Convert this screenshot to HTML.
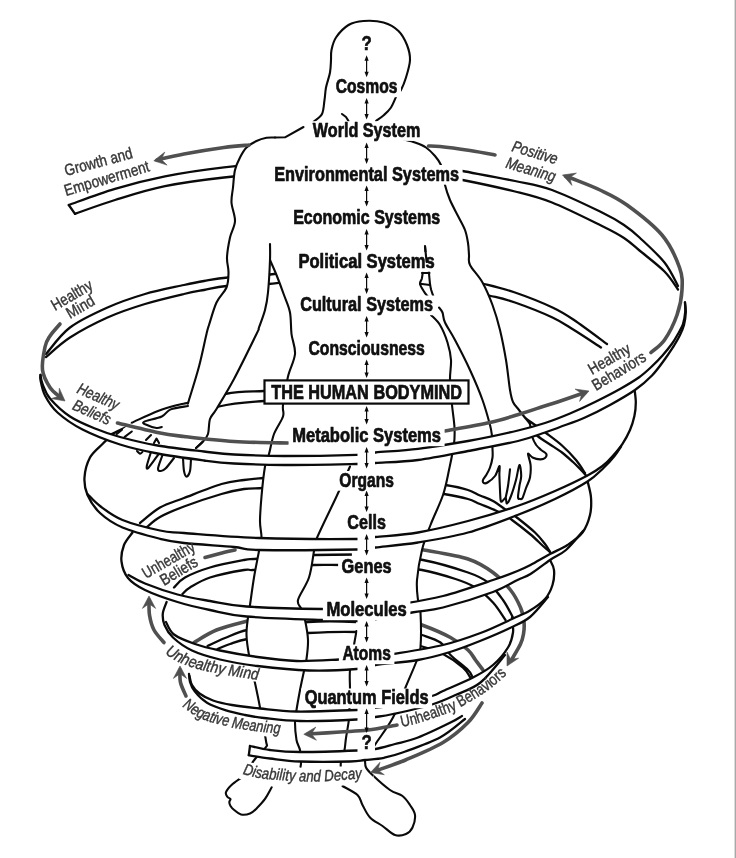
<!DOCTYPE html>
<html lang="en"><head><meta charset="utf-8"><title>The Human Bodymind</title>
<style>
html,body{margin:0;padding:0;background:#fff;}
body{width:736px;height:858px;overflow:hidden;}
svg{display:block;filter:grayscale(1);}
text{font-family:"Liberation Sans",Arial,Helvetica,sans-serif;}
.b{font-weight:bold;fill:#111;}
.g{fill:#383838;}
</style></head><body>
<svg width="736" height="858" viewBox="0 0 736 858">
<rect x="0" y="0" width="736" height="858" fill="#fff"/>
<rect x="734.6" y="0" width="1.4" height="858" fill="#a8a8a8"/>
<path d="M68.8 205.0C76.5 202.3 99.0 193.5 115.0 188.8C131.0 184.0 146.8 179.9 165.0 176.3C183.2 172.7 201.5 169.9 224.0 167.3C246.5 164.8 276.3 162.2 300.0 161.0C323.7 159.8 344.3 159.3 366.0 160.0C387.7 160.7 413.9 163.2 430.0 165.0C446.1 166.8 448.3 168.3 462.5 171.0C476.7 173.7 500.1 177.8 515.0 181.0C529.9 184.2 537.5 184.8 552.0 190.0C566.5 195.2 590.0 206.7 602.0 212.5C614.0 218.3 617.8 220.8 624.0 225.0C630.2 229.2 632.8 231.2 639.5 237.5C646.2 243.8 658.1 254.4 664.5 262.5C670.9 270.6 675.8 282.1 678.0 286.0L678.0 289.5C675.8 286.5 670.9 278.0 664.5 271.5C658.1 265.0 646.2 256.1 639.5 250.5C632.8 244.9 630.2 242.1 624.0 238.0C617.8 233.9 614.0 231.9 602.0 226.0C590.0 220.1 566.5 208.2 552.0 202.5C537.5 196.8 529.9 195.2 515.0 191.5C500.1 187.8 476.7 182.8 462.5 180.0C448.3 177.2 446.1 176.7 430.0 175.0C413.9 173.3 387.7 170.7 366.0 170.0C344.3 169.3 323.7 169.8 300.0 171.0C276.3 172.2 246.5 175.0 224.0 177.5C201.5 180.0 183.2 182.4 165.0 186.2C146.8 189.9 130.0 195.4 115.0 200.0C100.0 204.6 81.7 211.5 75.0 213.8Z" fill="#fff" stroke="none"/>
<path d="M68.8 205.0C76.5 202.3 99.0 193.5 115.0 188.8C131.0 184.0 146.8 179.9 165.0 176.3C183.2 172.7 201.5 169.9 224.0 167.3C246.5 164.8 276.3 162.2 300.0 161.0C323.7 159.8 344.3 159.3 366.0 160.0C387.7 160.7 413.9 163.2 430.0 165.0C446.1 166.8 448.3 168.3 462.5 171.0C476.7 173.7 500.1 177.8 515.0 181.0C529.9 184.2 537.5 184.8 552.0 190.0C566.5 195.2 590.0 206.7 602.0 212.5C614.0 218.3 617.8 220.8 624.0 225.0C630.2 229.2 632.8 231.2 639.5 237.5C646.2 243.8 658.1 254.4 664.5 262.5C670.9 270.6 675.8 282.1 678.0 286.0" fill="none" stroke="#0a0a0a" stroke-width="2.3" stroke-linecap="round" stroke-linejoin="round" />
<path d="M75.0 213.8C81.7 211.5 100.0 204.6 115.0 200.0C130.0 195.4 146.8 189.9 165.0 186.2C183.2 182.4 201.5 180.0 224.0 177.5C246.5 175.0 276.3 172.2 300.0 171.0C323.7 169.8 344.3 169.3 366.0 170.0C387.7 170.7 413.9 173.3 430.0 175.0C446.1 176.7 448.3 177.2 462.5 180.0C476.7 182.8 500.1 187.8 515.0 191.5C529.9 195.2 537.5 196.8 552.0 202.5C566.5 208.2 590.0 220.1 602.0 226.0C614.0 231.9 617.8 233.9 624.0 238.0C630.2 242.1 632.8 244.9 639.5 250.5C646.2 256.1 658.1 265.0 664.5 271.5C670.9 278.0 675.8 286.5 678.0 289.5" fill="none" stroke="#0a0a0a" stroke-width="2.3" stroke-linecap="round" stroke-linejoin="round" />
<path d="M68.8 205.0L75.0 213.8" fill="none" stroke="#0a0a0a" stroke-width="2.3" stroke-linecap="round" stroke-linejoin="round"/>
<path d="M46.0 354.0C50.0 349.6 59.8 335.2 70.0 327.5C80.2 319.8 95.0 313.1 107.5 307.5C120.0 301.9 132.2 297.8 145.0 294.0C157.8 290.2 174.2 287.2 184.0 285.0C193.8 282.8 196.7 282.2 204.0 281.0C211.3 279.8 217.0 278.6 228.0 277.5C239.0 276.4 254.7 276.1 270.0 274.5C285.3 272.9 304.0 269.6 320.0 268.0C336.0 266.4 347.7 264.3 366.0 265.0C384.3 265.7 410.3 268.8 430.0 272.0C449.7 275.2 469.8 280.6 484.0 284.0C498.2 287.4 503.6 288.6 515.0 292.5C526.4 296.4 542.7 302.9 552.5 307.5C562.3 312.1 564.9 313.9 574.0 320.0C583.1 326.1 601.5 340.0 607.0 344.0L601.0 347.5C596.5 344.6 582.1 335.0 574.0 330.0C565.9 325.0 562.3 322.1 552.5 317.5C542.7 312.9 525.6 306.2 515.0 302.5C504.4 298.8 503.2 298.8 489.0 295.5C474.8 292.2 450.5 286.4 430.0 283.0C409.5 279.6 384.3 275.8 366.0 275.0C347.7 274.2 336.3 276.5 320.0 278.0C303.7 279.5 283.6 282.7 268.0 284.0C252.4 285.3 237.2 285.0 226.5 286.0C215.8 287.0 211.1 288.7 204.0 290.0C196.9 291.3 193.8 291.7 184.0 294.0C174.2 296.3 157.8 300.1 145.0 304.0C132.2 307.9 120.0 311.9 107.5 317.5C95.0 323.1 80.2 330.9 70.0 337.5C59.8 344.1 50.0 353.8 46.0 357.0Z" fill="#fff" stroke="none"/>
<path d="M46.0 354.0C50.0 349.6 59.8 335.2 70.0 327.5C80.2 319.8 95.0 313.1 107.5 307.5C120.0 301.9 132.2 297.8 145.0 294.0C157.8 290.2 174.2 287.2 184.0 285.0C193.8 282.8 196.7 282.2 204.0 281.0C211.3 279.8 217.0 278.6 228.0 277.5C239.0 276.4 254.7 276.1 270.0 274.5C285.3 272.9 304.0 269.6 320.0 268.0C336.0 266.4 347.7 264.3 366.0 265.0C384.3 265.7 410.3 268.8 430.0 272.0C449.7 275.2 469.8 280.6 484.0 284.0C498.2 287.4 503.6 288.6 515.0 292.5C526.4 296.4 542.7 302.9 552.5 307.5C562.3 312.1 564.9 313.9 574.0 320.0C583.1 326.1 601.5 340.0 607.0 344.0" fill="none" stroke="#0a0a0a" stroke-width="2.3" stroke-linecap="round" stroke-linejoin="round" />
<path d="M46.0 357.0C50.0 353.8 59.8 344.1 70.0 337.5C80.2 330.9 95.0 323.1 107.5 317.5C120.0 311.9 132.2 307.9 145.0 304.0C157.8 300.1 174.2 296.3 184.0 294.0C193.8 291.7 196.9 291.3 204.0 290.0C211.1 288.7 215.8 287.0 226.5 286.0C237.2 285.0 252.4 285.3 268.0 284.0C283.6 282.7 303.7 279.5 320.0 278.0C336.3 276.5 347.7 274.2 366.0 275.0C384.3 275.8 409.5 279.6 430.0 283.0C450.5 286.4 474.8 292.2 489.0 295.5C503.2 298.8 504.4 298.8 515.0 302.5C525.6 306.2 542.7 312.9 552.5 317.5C562.3 322.1 565.9 325.0 574.0 330.0C582.1 335.0 596.5 344.6 601.0 347.5" fill="none" stroke="#0a0a0a" stroke-width="2.3" stroke-linecap="round" stroke-linejoin="round" />
<path d="M108.0 436.0C116.7 432.0 140.5 419.0 160.0 412.0C179.5 405.0 207.7 397.5 225.0 394.0C242.3 390.5 251.5 391.8 264.0 391.0C276.5 390.2 294.0 389.3 300.0 389.0L300.0 399.0C294.0 399.3 277.5 399.8 264.0 401.0C250.5 402.2 235.5 402.7 219.0 406.5C202.5 410.3 182.8 418.2 165.0 424.0C147.2 429.8 120.8 438.2 112.0 441.0Z" fill="#fff" stroke="none"/>
<path d="M108.0 436.0C116.7 432.0 140.5 419.0 160.0 412.0C179.5 405.0 207.7 397.5 225.0 394.0C242.3 390.5 251.5 391.8 264.0 391.0C276.5 390.2 294.0 389.3 300.0 389.0" fill="none" stroke="#0a0a0a" stroke-width="2.3" stroke-linecap="round" stroke-linejoin="round" />
<path d="M112.0 441.0C120.8 438.2 147.2 429.8 165.0 424.0C182.8 418.2 202.5 410.3 219.0 406.5C235.5 402.7 250.5 402.2 264.0 401.0C277.5 399.8 294.0 399.3 300.0 399.0" fill="none" stroke="#0a0a0a" stroke-width="2.3" stroke-linecap="round" stroke-linejoin="round" />
<path d="M505.0 402.0C507.7 404.2 516.0 411.2 521.0 415.0C526.0 418.8 530.8 422.0 535.0 425.0C539.2 428.0 541.5 429.6 546.0 433.0C550.5 436.4 557.0 441.0 562.0 445.5C567.0 450.0 572.2 455.4 576.0 460.0C579.8 464.6 583.5 470.8 585.0 473.0L586.0 475.5C585.2 474.6 583.2 472.2 581.0 470.0C578.8 467.8 576.2 464.9 573.0 462.0C569.8 459.1 565.8 455.4 562.0 452.5C558.2 449.6 554.1 447.2 550.0 444.5C545.9 441.8 541.7 439.2 537.5 436.0C533.3 432.8 530.4 429.2 525.0 425.0C519.6 420.8 508.3 413.3 505.0 411.0Z" fill="#fff" stroke="none"/>
<path d="M505.0 402.0C507.7 404.2 516.0 411.2 521.0 415.0C526.0 418.8 530.8 422.0 535.0 425.0C539.2 428.0 541.5 429.6 546.0 433.0C550.5 436.4 557.0 441.0 562.0 445.5C567.0 450.0 572.2 455.4 576.0 460.0C579.8 464.6 583.5 470.8 585.0 473.0" fill="none" stroke="#0a0a0a" stroke-width="2.3" stroke-linecap="round" stroke-linejoin="round" />
<path d="M505.0 411.0C508.3 413.3 519.6 420.8 525.0 425.0C530.4 429.2 533.3 432.8 537.5 436.0C541.7 439.2 545.9 441.8 550.0 444.5C554.1 447.2 558.2 449.6 562.0 452.5C565.8 455.4 569.8 459.1 573.0 462.0C576.2 464.9 578.8 467.8 581.0 470.0C583.2 472.2 585.2 474.6 586.0 475.5" fill="none" stroke="#0a0a0a" stroke-width="2.3" stroke-linecap="round" stroke-linejoin="round" />
<path d="M140.0 523.0C143.3 520.4 152.7 511.7 160.0 507.5C167.3 503.3 173.8 501.9 184.0 498.0C194.2 494.1 211.5 487.0 221.5 484.0C231.5 481.0 237.1 481.0 244.0 480.0C250.9 479.0 255.3 478.7 263.0 478.0C270.7 477.3 285.5 476.3 290.0 476.0L290.0 486.0C285.5 486.3 270.7 487.5 263.0 488.0C255.3 488.5 250.9 488.0 244.0 489.0C237.1 490.0 231.5 491.1 221.5 494.0C211.5 496.9 194.2 502.7 184.0 506.5C173.8 510.3 166.2 513.6 160.0 517.0C153.8 520.4 149.2 525.3 147.0 527.0Z" fill="#fff" stroke="none"/>
<path d="M140.0 523.0C143.3 520.4 152.7 511.7 160.0 507.5C167.3 503.3 173.8 501.9 184.0 498.0C194.2 494.1 211.5 487.0 221.5 484.0C231.5 481.0 237.1 481.0 244.0 480.0C250.9 479.0 255.3 478.7 263.0 478.0C270.7 477.3 285.5 476.3 290.0 476.0" fill="none" stroke="#0a0a0a" stroke-width="2.3" stroke-linecap="round" stroke-linejoin="round" />
<path d="M147.0 527.0C149.2 525.3 153.8 520.4 160.0 517.0C166.2 513.6 173.8 510.3 184.0 506.5C194.2 502.7 211.5 496.9 221.5 494.0C231.5 491.1 237.1 490.0 244.0 489.0C250.9 488.0 255.3 488.5 263.0 488.0C270.7 487.5 285.5 486.3 290.0 486.0" fill="none" stroke="#0a0a0a" stroke-width="2.3" stroke-linecap="round" stroke-linejoin="round" />
<path d="M420.0 482.0C424.2 482.5 437.5 483.7 445.5 485.0C453.5 486.3 462.2 488.2 468.0 490.0C473.8 491.8 475.8 493.7 480.0 495.5C484.2 497.3 488.4 498.4 493.0 501.0C497.6 503.6 503.4 508.2 507.5 511.0C511.6 513.8 512.9 514.4 517.5 518.0C522.1 521.6 530.4 528.2 535.0 532.5C539.6 536.8 542.5 540.8 545.0 544.0C547.5 547.2 549.2 550.7 550.0 552.0L550.0 552.0C548.8 551.0 546.3 549.0 543.0 546.0C539.7 543.0 535.2 538.3 530.0 534.0C524.8 529.7 517.0 523.6 512.0 520.0C507.0 516.4 505.3 515.2 500.0 512.5C494.7 509.8 485.3 506.2 480.0 504.0C474.7 501.8 474.0 500.7 468.0 499.0C462.0 497.3 452.0 495.3 444.0 494.0C436.0 492.7 424.0 491.5 420.0 491.0Z" fill="#fff" stroke="none"/>
<path d="M420.0 482.0C424.2 482.5 437.5 483.7 445.5 485.0C453.5 486.3 462.2 488.2 468.0 490.0C473.8 491.8 475.8 493.7 480.0 495.5C484.2 497.3 488.4 498.4 493.0 501.0C497.6 503.6 503.4 508.2 507.5 511.0C511.6 513.8 512.9 514.4 517.5 518.0C522.1 521.6 530.4 528.2 535.0 532.5C539.6 536.8 542.5 540.8 545.0 544.0C547.5 547.2 549.2 550.7 550.0 552.0" fill="none" stroke="#0a0a0a" stroke-width="2.3" stroke-linecap="round" stroke-linejoin="round" />
<path d="M420.0 491.0C424.0 491.5 436.0 492.7 444.0 494.0C452.0 495.3 462.0 497.3 468.0 499.0C474.0 500.7 474.7 501.8 480.0 504.0C485.3 506.2 494.7 509.8 500.0 512.5C505.3 515.2 507.0 516.4 512.0 520.0C517.0 523.6 524.8 529.7 530.0 534.0C535.2 538.3 539.7 543.0 543.0 546.0C546.3 549.0 548.8 551.0 550.0 552.0" fill="none" stroke="#0a0a0a" stroke-width="2.3" stroke-linecap="round" stroke-linejoin="round" />
<path d="M174.0 587.5C175.8 585.8 179.0 580.8 185.0 577.5C191.0 574.2 200.2 570.4 210.0 567.5C219.8 564.6 236.7 561.4 244.0 560.0C251.3 558.6 248.0 559.5 254.0 559.0C260.0 558.5 269.8 557.7 280.0 557.0C290.2 556.3 302.2 555.4 315.0 555.0C327.8 554.6 345.7 554.5 356.5 554.5C367.3 554.5 368.9 554.1 380.0 555.0C391.1 555.9 408.3 557.1 423.0 560.0C437.7 562.9 457.2 568.8 468.0 572.5C478.8 576.2 482.2 577.9 488.0 582.5C493.8 587.1 498.8 594.2 503.0 600.0C507.2 605.8 511.3 614.6 513.0 617.5L505.5 620.0C503.4 617.1 498.0 607.9 493.0 602.5C488.0 597.1 481.8 591.4 475.5 587.5C469.2 583.6 464.4 581.9 455.5 579.0C446.6 576.1 434.6 572.3 422.0 570.0C409.4 567.7 393.4 565.8 380.0 565.0C366.6 564.2 352.5 565.0 341.5 565.0C330.5 565.0 324.2 564.7 314.0 565.0C303.8 565.3 290.2 566.2 280.0 567.0C269.8 567.8 259.0 569.5 253.0 570.0C247.0 570.5 251.2 568.8 244.0 570.0C236.8 571.2 219.0 574.6 210.0 577.5C201.0 580.4 194.6 584.8 190.0 587.5C185.4 590.2 183.8 592.9 182.5 594.0Z" fill="#fff" stroke="none"/>
<path d="M174.0 587.5C175.8 585.8 179.0 580.8 185.0 577.5C191.0 574.2 200.2 570.4 210.0 567.5C219.8 564.6 236.7 561.4 244.0 560.0C251.3 558.6 248.0 559.5 254.0 559.0C260.0 558.5 269.8 557.7 280.0 557.0C290.2 556.3 302.2 555.4 315.0 555.0C327.8 554.6 345.7 554.5 356.5 554.5C367.3 554.5 368.9 554.1 380.0 555.0C391.1 555.9 408.3 557.1 423.0 560.0C437.7 562.9 457.2 568.8 468.0 572.5C478.8 576.2 482.2 577.9 488.0 582.5C493.8 587.1 498.8 594.2 503.0 600.0C507.2 605.8 511.3 614.6 513.0 617.5" fill="none" stroke="#0a0a0a" stroke-width="2.3" stroke-linecap="round" stroke-linejoin="round" />
<path d="M182.5 594.0C183.8 592.9 185.4 590.2 190.0 587.5C194.6 584.8 201.0 580.4 210.0 577.5C219.0 574.6 236.8 571.2 244.0 570.0C251.2 568.8 247.0 570.5 253.0 570.0C259.0 569.5 269.8 567.8 280.0 567.0C290.2 566.2 303.8 565.3 314.0 565.0C324.2 564.7 330.5 565.0 341.5 565.0C352.5 565.0 366.6 564.2 380.0 565.0C393.4 565.8 409.4 567.7 422.0 570.0C434.6 572.3 446.6 576.1 455.5 579.0C464.4 581.9 469.2 583.6 475.5 587.5C481.8 591.4 488.0 597.1 493.0 602.5C498.0 607.9 503.4 617.1 505.5 620.0" fill="none" stroke="#0a0a0a" stroke-width="2.3" stroke-linecap="round" stroke-linejoin="round" />
<path d="M207.5 646.0C210.4 644.7 218.3 640.7 225.0 638.0C231.7 635.3 238.3 631.7 247.5 630.0C256.7 628.3 269.9 629.3 280.0 628.0C290.1 626.7 295.2 623.0 308.0 622.0C320.8 621.0 342.8 621.3 356.5 622.0C370.2 622.7 379.1 623.8 390.0 626.0C400.9 628.2 413.6 632.2 422.0 635.0C430.4 637.8 435.8 639.2 440.5 642.5C445.2 645.8 445.9 650.4 450.5 655.0C455.1 659.6 464.4 666.5 468.0 670.0C471.6 673.5 471.3 675.0 472.0 676.0L470.0 677.0C468.8 675.4 467.5 671.3 463.0 667.5C458.5 663.7 450.1 657.6 443.0 654.0C435.9 650.4 429.3 649.0 420.5 646.0C411.7 643.0 400.7 638.3 390.0 636.0C379.3 633.7 370.2 632.5 356.5 632.0C342.8 631.5 320.8 632.3 308.0 633.0C295.2 633.7 290.1 635.0 280.0 636.0C269.9 637.0 255.8 637.7 247.5 639.0C239.2 640.3 235.0 642.3 230.0 644.0C225.0 645.7 219.6 648.2 217.5 649.0Z" fill="#fff" stroke="none"/>
<path d="M207.5 646.0C210.4 644.7 218.3 640.7 225.0 638.0C231.7 635.3 238.3 631.7 247.5 630.0C256.7 628.3 269.9 629.3 280.0 628.0C290.1 626.7 295.2 623.0 308.0 622.0C320.8 621.0 342.8 621.3 356.5 622.0C370.2 622.7 379.1 623.8 390.0 626.0C400.9 628.2 413.6 632.2 422.0 635.0C430.4 637.8 435.8 639.2 440.5 642.5C445.2 645.8 445.9 650.4 450.5 655.0C455.1 659.6 464.4 666.5 468.0 670.0C471.6 673.5 471.3 675.0 472.0 676.0" fill="none" stroke="#0a0a0a" stroke-width="2.3" stroke-linecap="round" stroke-linejoin="round" />
<path d="M217.5 649.0C219.6 648.2 225.0 645.7 230.0 644.0C235.0 642.3 239.2 640.3 247.5 639.0C255.8 637.7 269.9 637.0 280.0 636.0C290.1 635.0 295.2 633.7 308.0 633.0C320.8 632.3 342.8 631.5 356.5 632.0C370.2 632.5 379.3 633.7 390.0 636.0C400.7 638.3 411.7 643.0 420.5 646.0C429.3 649.0 435.9 650.4 443.0 654.0C450.1 657.6 458.5 663.7 463.0 667.5C467.5 671.3 468.8 675.4 470.0 677.0" fill="none" stroke="#0a0a0a" stroke-width="2.3" stroke-linecap="round" stroke-linejoin="round" />
<path d="M205.0 557.5C207.5 556.8 215.0 554.8 220.0 553.5C225.0 552.2 232.5 550.6 235.0 550.0" fill="none" stroke="#505050" stroke-width="3.6" stroke-linecap="round" stroke-linejoin="round" />
<path d="M194.0 642.5C197.8 640.4 207.6 633.6 216.5 630.0C225.4 626.4 239.9 623.0 247.5 621.0C255.1 619.0 259.6 618.5 262.0 618.0" fill="none" stroke="#505050" stroke-width="3.6" stroke-linecap="round" stroke-linejoin="round" />
<path d="M415.0 549.0C416.5 549.2 415.2 548.3 424.0 550.0C432.8 551.7 456.5 555.2 468.0 559.0C479.5 562.8 485.9 567.3 493.0 572.5C500.1 577.7 505.9 584.2 510.5 590.0C515.1 595.8 518.2 602.2 520.5 607.5C522.8 612.8 523.5 617.6 524.0 622.0C524.5 626.4 524.1 630.3 523.5 634.0C522.9 637.7 522.4 639.8 520.5 644.0C518.6 648.2 513.4 656.5 512.0 659.0" fill="none" stroke="#505050" stroke-width="3.6" stroke-linecap="round" stroke-linejoin="round" />
<path d="M415.0 624.0C416.2 624.2 416.1 622.8 422.0 625.0C427.9 627.2 442.8 633.3 450.5 637.5C458.2 641.7 463.8 646.2 468.0 650.0C472.2 653.8 473.0 656.7 475.5 660.0C478.0 663.3 481.8 668.3 483.0 670.0" fill="none" stroke="#505050" stroke-width="3.6" stroke-linecap="round" stroke-linejoin="round" />
<path d="M313.5 121.7L322.0 114.0L324.5 100.0L326.0 87.5L330.0 72.5L331.0 60.0L331.5 50.0L336.0 37.5L348.5 25.0L363.5 21.0L383.5 22.5L398.5 31.0L407.0 45.0L410.0 60.0L406.0 77.5L401.0 90.0L397.0 95.0L391.0 107.5L384.0 115.0L376.0 121.0L395.0 130.0L403.5 139.5L415.0 142.5L426.0 147.5L435.0 156.0L441.0 165.0L444.0 176.0L445.0 185.0L450.0 200.0L458.0 216.0L465.0 230.0L468.0 243.0L469.0 255.0L470.0 265.0L482.5 282.5L492.5 305.0L500.0 330.0L506.0 360.0L510.0 390.0L513.0 402.0L519.0 410.0L530.0 424.0L532.5 437.5L536.2 445.0L541.2 450.0L546.2 453.8L545.0 458.0L540.0 459.4L532.5 457.5L528.0 453.8L530.6 465.0L530.0 477.5L526.2 487.5L522.5 498.0L520.0 498.8L518.0 497.5L519.4 486.0L521.2 476.0L519.4 465.0L516.0 480.0L511.0 496.0L507.0 503.5L505.6 498.0L502.0 501.5L500.6 500.0L500.0 490.0L499.4 475.0L499.4 466.0L495.0 476.0L487.5 482.5L483.8 483.0L483.0 480.0L486.2 475.0L490.0 467.5L492.5 457.5L492.5 448.8L492.0 436.0L490.0 425.0L482.5 400.0L470.0 370.0L455.0 340.0L445.0 322.5L442.5 312.5L439.0 307.5L436.0 310.0L431.0 315.0L440.0 325.0L447.5 342.5L451.0 360.0L450.0 380.0L452.0 405.0L454.5 427.5L454.0 444.0L449.0 470.0L443.0 495.0L430.5 525.0L422.0 550.0L417.0 580.0L418.0 600.0L420.5 612.5L420.5 647.5L417.0 660.0L405.5 687.5L393.0 717.5L375.5 744.0L365.0 760.0L366.0 767.5L372.5 775.0L390.0 790.0L402.5 796.0L410.0 805.0L415.0 815.0L412.5 827.5L406.0 834.0L395.0 835.0L382.5 826.0L370.0 817.5L362.5 805.0L357.5 795.0L342.5 786.0L343.0 770.0L340.8 767.0L341.0 762.0L344.5 750.0L346.0 738.0L349.0 719.0L349.5 706.5L350.0 690.0L350.0 670.0L354.0 645.0L356.5 631.0L352.0 560.0L350.0 466.5L336.5 496.5L316.5 539.0L314.0 551.0L309.0 577.5L298.0 600.0L301.5 609.0L305.0 620.0L308.0 640.0L306.5 659.0L304.0 671.0L300.0 690.0L296.5 710.0L295.0 722.5L296.5 740.0L300.0 750.0L301.0 762.0L300.5 767.0L290.0 770.0L271.7 787.3L265.2 798.7L257.0 808.0L250.0 813.5L241.0 814.5L234.2 810.0L230.5 806.0L229.3 802.0L230.5 799.0L227.5 797.0L226.0 792.2L232.6 784.0L244.0 775.9L255.0 759.0L266.0 747.0L266.0 741.0L260.0 707.5L256.5 690.0L249.0 655.0L246.5 635.0L248.0 617.5L250.0 605.0L254.0 577.5L259.0 551.0L261.5 538.0L260.0 521.5L261.5 496.5L265.0 466.5L269.0 454.0L274.0 434.0L283.0 416.5L283.0 405.0L288.0 376.5L295.0 354.0L291.5 334.0L290.0 312.5L284.0 295.0L276.5 275.0L270.0 260.0L270.0 244.0L270.0 260.0L268.0 292.5L265.0 310.0L259.0 327.5L256.5 334.0L234.0 379.0L216.5 409.0L210.0 419.0L208.0 434.0L202.5 442.0L196.0 448.0L196.0 448.0L191.0 460.0L186.6 476.6L183.0 460.0L174.0 458.0L161.0 471.0L158.0 458.0L146.8 466.0L151.0 455.0L140.0 453.6L125.0 440.0L116.0 434.0L131.8 422.7L158.0 411.0L177.7 405.0L188.0 403.0L189.0 400.0L199.0 366.5L206.5 334.0L209.0 325.0L216.5 302.5L226.5 287.5L228.5 272.5L227.0 257.5L230.0 237.5L235.0 221.0L231.5 202.5L233.0 187.5L235.0 170.0L240.0 157.5L246.5 147.5L256.5 141.0L266.5 137.8L275.0 137.5L285.0 137.3L303.5 127.0L313.5 121.7 Z" fill="#fff" stroke="none"/>
<path d="M313.5 121.7C314.9 120.4 320.2 117.6 322.0 114.0C323.8 110.4 323.8 104.4 324.5 100.0C325.2 95.6 325.1 92.1 326.0 87.5C326.9 82.9 329.2 77.1 330.0 72.5C330.8 67.9 330.8 63.8 331.0 60.0C331.2 56.2 330.7 53.8 331.5 50.0C332.3 46.2 333.2 41.7 336.0 37.5C338.8 33.3 343.9 27.8 348.5 25.0C353.1 22.2 357.7 21.4 363.5 21.0C369.3 20.6 377.7 20.8 383.5 22.5C389.3 24.2 394.6 27.2 398.5 31.0C402.4 34.8 405.1 40.2 407.0 45.0C408.9 49.8 410.2 54.6 410.0 60.0C409.8 65.4 407.5 72.5 406.0 77.5C404.5 82.5 402.5 87.1 401.0 90.0C399.5 92.9 398.7 92.1 397.0 95.0C395.3 97.9 393.2 104.2 391.0 107.5C388.8 110.8 386.5 112.8 384.0 115.0C381.5 117.2 377.3 120.0 376.0 121.0" fill="none" stroke="#0a0a0a" stroke-width="2.1" stroke-linecap="round" stroke-linejoin="round" />
<path d="M342.0 114.0L346.0 117.0L348.5 121.0" fill="none" stroke="#0a0a0a" stroke-width="2.1" stroke-linecap="round" stroke-linejoin="round"/>
<path d="M403.5 139.5C405.4 140.0 411.2 141.2 415.0 142.5C418.8 143.8 422.7 145.2 426.0 147.5C429.3 149.8 432.5 153.1 435.0 156.0C437.5 158.9 439.5 161.7 441.0 165.0C442.5 168.3 443.3 172.7 444.0 176.0C444.7 179.3 444.0 181.0 445.0 185.0C446.0 189.0 447.8 194.8 450.0 200.0C452.2 205.2 455.5 211.0 458.0 216.0C460.5 221.0 463.3 225.5 465.0 230.0C466.7 234.5 467.3 238.8 468.0 243.0C468.7 247.2 468.7 251.3 469.0 255.0C469.3 258.7 467.8 260.4 470.0 265.0C472.2 269.6 478.8 275.8 482.5 282.5C486.2 289.2 489.6 297.1 492.5 305.0C495.4 312.9 497.8 320.8 500.0 330.0C502.2 339.2 504.3 350.0 506.0 360.0C507.7 370.0 508.8 383.0 510.0 390.0C511.2 397.0 511.5 398.7 513.0 402.0C514.5 405.3 516.2 406.3 519.0 410.0C521.8 413.7 528.2 421.7 530.0 424.0" fill="none" stroke="#0a0a0a" stroke-width="2.1" stroke-linecap="round" stroke-linejoin="round" />
<path d="M530.0 424.0C530.4 426.2 531.5 434.0 532.5 437.5C533.5 441.0 534.8 442.9 536.2 445.0C537.7 447.1 539.6 448.5 541.2 450.0C542.9 451.5 545.6 452.4 546.2 453.8C546.9 455.1 546.0 457.1 545.0 458.0C544.0 458.9 542.1 459.5 540.0 459.4C537.9 459.3 534.5 458.4 532.5 457.5C530.5 456.6 528.3 452.5 528.0 453.8C527.7 455.0 530.3 461.0 530.6 465.0C530.9 469.0 530.7 473.8 530.0 477.5C529.3 481.2 527.5 484.1 526.2 487.5C525.0 490.9 523.5 496.1 522.5 498.0C521.5 499.9 520.8 498.8 520.0 498.8C519.2 498.7 518.1 499.6 518.0 497.5C517.9 495.4 518.9 489.6 519.4 486.0C519.9 482.4 521.2 479.5 521.2 476.0C521.2 472.5 520.3 464.3 519.4 465.0C518.5 465.7 517.4 474.8 516.0 480.0C514.6 485.2 512.5 492.1 511.0 496.0C509.5 499.9 507.9 503.2 507.0 503.5C506.1 503.8 506.4 498.3 505.6 498.0C504.8 497.7 502.8 501.2 502.0 501.5C501.2 501.8 500.9 501.9 500.6 500.0C500.3 498.1 500.2 494.2 500.0 490.0C499.8 485.8 499.5 479.0 499.4 475.0C499.3 471.0 500.1 465.8 499.4 466.0C498.7 466.2 497.0 473.2 495.0 476.0C493.0 478.8 489.4 481.3 487.5 482.5C485.6 483.7 484.5 483.4 483.8 483.0C483.0 482.6 482.6 481.3 483.0 480.0C483.4 478.7 485.1 477.1 486.2 475.0C487.4 472.9 489.0 470.4 490.0 467.5C491.0 464.6 492.1 460.6 492.5 457.5C492.9 454.4 492.6 452.3 492.5 448.8C492.4 445.2 492.1 438.1 492.0 436.0" fill="none" stroke="#0a0a0a" stroke-width="2.1" stroke-linecap="round" stroke-linejoin="round" />
<path d="M510.0 469.4C509.7 472.2 508.7 481.2 508.0 486.0C507.3 490.8 506.0 496.0 505.6 498.0" fill="none" stroke="#0a0a0a" stroke-width="2.1" stroke-linecap="round" stroke-linejoin="round" />
<path d="M492.0 436.0C491.7 434.2 491.6 431.0 490.0 425.0C488.4 419.0 485.8 409.2 482.5 400.0C479.2 390.8 474.6 380.0 470.0 370.0C465.4 360.0 459.2 347.9 455.0 340.0C450.8 332.1 447.1 327.1 445.0 322.5C442.9 317.9 443.5 315.0 442.5 312.5C441.5 310.0 439.6 308.3 439.0 307.5" fill="none" stroke="#0a0a0a" stroke-width="2.1" stroke-linecap="round" stroke-linejoin="round" />
<path d="M431.0 315.0C432.5 316.7 437.2 320.4 440.0 325.0C442.8 329.6 445.7 336.7 447.5 342.5C449.3 348.3 450.6 353.8 451.0 360.0C451.4 366.2 449.8 372.5 450.0 380.0C450.2 387.5 451.2 397.1 452.0 405.0C452.8 412.9 454.2 421.0 454.5 427.5C454.8 434.0 454.9 436.9 454.0 444.0C453.1 451.1 450.8 461.5 449.0 470.0C447.2 478.5 446.1 485.8 443.0 495.0C439.9 504.2 434.0 515.8 430.5 525.0C427.0 534.2 424.2 540.8 422.0 550.0C419.8 559.2 417.7 571.7 417.0 580.0C416.3 588.3 417.4 594.6 418.0 600.0C418.6 605.4 420.1 604.6 420.5 612.5C420.9 620.4 421.1 639.6 420.5 647.5C419.9 655.4 419.5 653.3 417.0 660.0C414.5 666.7 409.5 677.9 405.5 687.5C401.5 697.1 398.0 708.1 393.0 717.5C388.0 726.9 380.2 736.9 375.5 744.0C370.8 751.1 366.8 757.3 365.0 760.0" fill="none" stroke="#0a0a0a" stroke-width="2.1" stroke-linecap="round" stroke-linejoin="round" />
<path d="M365.0 760.0C365.2 761.2 364.8 765.0 366.0 767.5C367.2 770.0 368.5 771.2 372.5 775.0C376.5 778.8 385.0 786.5 390.0 790.0C395.0 793.5 399.2 793.5 402.5 796.0C405.8 798.5 407.9 801.8 410.0 805.0C412.1 808.2 414.6 811.2 415.0 815.0C415.4 818.8 414.0 824.3 412.5 827.5C411.0 830.7 408.9 832.8 406.0 834.0C403.1 835.2 398.9 836.3 395.0 835.0C391.1 833.7 386.7 828.9 382.5 826.0C378.3 823.1 373.3 821.0 370.0 817.5C366.7 814.0 364.6 808.8 362.5 805.0C360.4 801.2 360.8 798.2 357.5 795.0C354.2 791.8 345.0 787.5 342.5 786.0" fill="none" stroke="#0a0a0a" stroke-width="2.1" stroke-linecap="round" stroke-linejoin="round" />
<path d="M340.8 767.0C340.8 766.2 340.4 764.8 341.0 762.0C341.6 759.2 343.7 754.0 344.5 750.0C345.3 746.0 345.2 743.2 346.0 738.0C346.8 732.8 348.4 724.2 349.0 719.0C349.6 713.8 349.3 711.3 349.5 706.5C349.7 701.7 349.9 696.1 350.0 690.0C350.1 683.9 349.3 677.5 350.0 670.0C350.7 662.5 352.9 651.5 354.0 645.0C355.1 638.5 356.1 633.3 356.5 631.0" fill="none" stroke="#0a0a0a" stroke-width="2.1" stroke-linecap="round" stroke-linejoin="round" />
<path d="M350.0 466.5C347.8 471.5 342.1 484.4 336.5 496.5C330.9 508.6 320.2 529.9 316.5 539.0C312.8 548.1 315.2 544.6 314.0 551.0C312.8 557.4 311.7 569.3 309.0 577.5C306.3 585.7 299.2 594.8 298.0 600.0C296.8 605.2 300.3 605.7 301.5 609.0C302.7 612.3 303.9 614.8 305.0 620.0C306.1 625.2 307.8 633.5 308.0 640.0C308.2 646.5 307.2 653.8 306.5 659.0C305.8 664.2 305.1 665.8 304.0 671.0C302.9 676.2 301.2 683.5 300.0 690.0C298.8 696.5 297.3 704.6 296.5 710.0C295.7 715.4 295.0 717.5 295.0 722.5C295.0 727.5 295.7 735.4 296.5 740.0C297.3 744.6 299.2 746.3 300.0 750.0C300.8 753.7 300.9 759.2 301.0 762.0C301.1 764.8 300.6 766.2 300.5 767.0" fill="none" stroke="#0a0a0a" stroke-width="2.1" stroke-linecap="round" stroke-linejoin="round" />
<path d="M271.7 787.3C270.6 789.2 267.6 795.2 265.2 798.7C262.8 802.2 259.5 805.5 257.0 808.0C254.5 810.5 252.7 812.4 250.0 813.5C247.3 814.6 243.6 815.1 241.0 814.5C238.4 813.9 235.9 811.4 234.2 810.0C232.4 808.6 231.3 807.3 230.5 806.0C229.7 804.7 229.3 803.2 229.3 802.0C229.3 800.8 230.8 799.8 230.5 799.0C230.2 798.2 228.2 798.1 227.5 797.0C226.8 795.9 225.2 794.4 226.0 792.2C226.8 790.0 229.6 786.7 232.6 784.0C235.6 781.3 242.1 777.2 244.0 775.9" fill="none" stroke="#0a0a0a" stroke-width="2.1" stroke-linecap="round" stroke-linejoin="round" />
<path d="M244.0 775.9C245.8 773.1 251.3 763.8 255.0 759.0C258.7 754.2 264.2 750.0 266.0 747.0C267.8 744.0 267.0 747.6 266.0 741.0C265.0 734.4 261.6 716.0 260.0 707.5C258.4 699.0 258.3 698.8 256.5 690.0C254.7 681.2 250.7 664.2 249.0 655.0C247.3 645.8 246.7 641.2 246.5 635.0C246.3 628.8 247.4 622.5 248.0 617.5C248.6 612.5 249.0 611.7 250.0 605.0C251.0 598.3 252.5 586.5 254.0 577.5C255.5 568.5 257.8 557.6 259.0 551.0C260.2 544.4 261.3 542.9 261.5 538.0C261.7 533.1 260.0 528.4 260.0 521.5C260.0 514.6 260.7 505.7 261.5 496.5C262.3 487.3 263.8 473.6 265.0 466.5C266.2 459.4 267.5 459.4 269.0 454.0C270.5 448.6 271.7 440.2 274.0 434.0C276.3 427.8 281.5 421.3 283.0 416.5C284.5 411.7 282.2 411.7 283.0 405.0C283.8 398.3 286.0 385.0 288.0 376.5C290.0 368.0 294.4 361.1 295.0 354.0C295.6 346.9 292.3 340.9 291.5 334.0C290.7 327.1 291.2 319.0 290.0 312.5C288.8 306.0 286.2 301.2 284.0 295.0C281.8 288.8 278.8 280.8 276.5 275.0C274.2 269.2 271.1 262.5 270.0 260.0" fill="none" stroke="#0a0a0a" stroke-width="2.1" stroke-linecap="round" stroke-linejoin="round" />
<path d="M270.0 244.0C270.0 246.7 270.3 251.9 270.0 260.0C269.7 268.1 268.8 284.2 268.0 292.5C267.2 300.8 266.5 304.2 265.0 310.0C263.5 315.8 260.4 323.5 259.0 327.5C257.6 331.5 260.7 325.4 256.5 334.0C252.3 342.6 240.7 366.5 234.0 379.0C227.3 391.5 220.5 402.3 216.5 409.0C212.5 415.7 211.4 414.8 210.0 419.0C208.6 423.2 209.2 430.2 208.0 434.0C206.8 437.8 204.5 439.7 202.5 442.0C200.5 444.3 197.1 447.0 196.0 448.0" fill="none" stroke="#0a0a0a" stroke-width="2.1" stroke-linecap="round" stroke-linejoin="round" />
<path d="M188.0 403.0C188.2 402.5 187.2 406.1 189.0 400.0C190.8 393.9 196.1 377.5 199.0 366.5C201.9 355.5 204.8 340.9 206.5 334.0C208.2 327.1 207.3 330.2 209.0 325.0C210.7 319.8 213.6 308.8 216.5 302.5C219.4 296.2 224.5 292.5 226.5 287.5C228.5 282.5 228.4 277.5 228.5 272.5C228.6 267.5 226.8 263.3 227.0 257.5C227.2 251.7 228.7 243.6 230.0 237.5C231.3 231.4 234.8 226.8 235.0 221.0C235.2 215.2 231.8 208.1 231.5 202.5C231.2 196.9 232.4 192.9 233.0 187.5C233.6 182.1 233.8 175.0 235.0 170.0C236.2 165.0 238.1 161.2 240.0 157.5C241.9 153.8 243.8 150.2 246.5 147.5C249.2 144.8 253.2 142.6 256.5 141.0C259.8 139.4 263.4 138.4 266.5 137.8C269.6 137.2 273.6 137.6 275.0 137.5" fill="none" stroke="#0a0a0a" stroke-width="2.1" stroke-linecap="round" stroke-linejoin="round" />
<path d="M275.0 137.5L285.0 137.3L303.5 127.0" fill="none" stroke="#0a0a0a" stroke-width="2.1" stroke-linecap="round" stroke-linejoin="round"/>
<path d="M188.0 403.0C186.3 403.3 182.7 403.7 177.7 405.0C172.7 406.3 165.7 408.1 158.0 411.0C150.3 413.9 136.2 420.8 131.8 422.7" fill="none" stroke="#0a0a0a" stroke-width="2.1" stroke-linecap="round" stroke-linejoin="round" />
<path d="M188.0 406.0C185.1 406.6 175.1 407.6 170.7 409.4C166.3 411.1 166.2 414.4 161.8 416.5C157.4 418.6 146.5 420.4 144.0 421.8C141.5 423.2 144.9 424.0 147.0 425.0C149.1 426.0 154.0 427.7 156.5 428.0C159.0 428.3 160.9 427.2 161.8 427.0" fill="none" stroke="#0a0a0a" stroke-width="2.1" stroke-linecap="round" stroke-linejoin="round" />
<path d="M116.8 434.0L122.0 429.7" fill="none" stroke="#0a0a0a" stroke-width="2.1" stroke-linecap="round" stroke-linejoin="round"/>
<path d="M124.7 436.8L131.8 431.5" fill="none" stroke="#0a0a0a" stroke-width="2.1" stroke-linecap="round" stroke-linejoin="round"/>
<path d="M146.0 440.0L151.0 435.0" fill="none" stroke="#0a0a0a" stroke-width="2.1" stroke-linecap="round" stroke-linejoin="round"/>
<path d="M154.0 443.0L156.5 438.6L159.0 443.0" fill="none" stroke="#0a0a0a" stroke-width="2.1" stroke-linecap="round" stroke-linejoin="round"/>
<path d="M202.5 442.0L196.0 448.0" fill="none" stroke="#0a0a0a" stroke-width="2.1" stroke-linecap="round" stroke-linejoin="round"/>
<path d="M151.0 452.0C150.3 454.3 147.2 463.4 146.8 466.0C146.4 468.6 146.6 469.5 148.5 467.7C150.4 465.9 156.4 457.1 158.0 455.0" fill="none" stroke="#0a0a0a" stroke-width="2.1" stroke-linecap="round" stroke-linejoin="round" />
<path d="M162.5 455.0C161.8 457.3 158.2 465.9 158.0 468.6C157.8 471.3 159.8 471.0 161.0 471.0C162.2 471.0 163.3 470.8 165.5 468.6C167.7 466.4 172.6 459.8 174.0 458.0" fill="none" stroke="#0a0a0a" stroke-width="2.1" stroke-linecap="round" stroke-linejoin="round" />
<path d="M183.0 458.0C183.2 460.2 183.4 467.9 184.0 471.0C184.6 474.1 185.6 476.6 186.6 476.6C187.6 476.6 189.3 473.9 190.0 471.0C190.7 468.1 190.8 461.0 191.0 459.0" fill="none" stroke="#0a0a0a" stroke-width="2.1" stroke-linecap="round" stroke-linejoin="round" />
<path d="M137.0 451.0C137.5 451.4 139.1 453.4 140.0 453.6C140.9 453.8 142.0 452.3 142.4 452.0" fill="none" stroke="#0a0a0a" stroke-width="2.1" stroke-linecap="round" stroke-linejoin="round" />
<path d="M425.0 246.2L426.2 260.0" fill="none" stroke="#0a0a0a" stroke-width="2.1" stroke-linecap="round" stroke-linejoin="round"/>
<path d="M422.8 272.5C422.6 273.5 422.2 276.9 421.8 278.8C421.3 280.6 419.7 281.7 420.0 283.8C420.3 285.8 422.5 289.2 423.8 291.2C425.0 293.3 426.9 295.4 427.5 296.2" fill="none" stroke="#0a0a0a" stroke-width="2.1" stroke-linecap="round" stroke-linejoin="round" />
<path d="M428.8 271.2C429.0 273.3 429.6 280.6 430.0 283.8C430.4 286.9 430.6 287.7 431.2 290.0C431.9 292.3 433.3 296.2 433.8 297.5" fill="none" stroke="#0a0a0a" stroke-width="2.1" stroke-linecap="round" stroke-linejoin="round" />
<path d="M422.0 273.0L429.5 273.0" fill="none" stroke="#0a0a0a" stroke-width="2.1" stroke-linecap="round" stroke-linejoin="round"/>
<path d="M420.0 283.8L430.0 285.0" fill="none" stroke="#0a0a0a" stroke-width="2.1" stroke-linecap="round" stroke-linejoin="round"/>
<path d="M167.7 648.9C169.9 650.3 175.6 654.6 180.8 657.0C186.1 659.5 193.0 662.0 199.1 663.7C205.3 665.5 212.8 666.6 217.7 667.6C222.7 668.6 222.1 668.7 228.9 669.9C235.7 671.0 252.8 673.5 258.3 674.4C263.8 675.2 261.2 674.8 261.8 674.9" fill="none" stroke="#fff" stroke-width="15" stroke-linecap="butt"/>
<path d="M184.5 702.9C187.0 704.5 194.7 710.4 199.7 713.0C204.6 715.6 209.6 717.0 214.2 718.4C218.7 719.8 224.1 720.9 227.2 721.6C230.3 722.4 227.9 722.3 232.6 723.1C237.2 723.9 247.3 725.5 255.2 726.5C263.1 727.5 275.2 728.6 279.9 729.1C284.6 729.6 282.9 729.5 283.5 729.5" fill="none" stroke="#fff" stroke-width="17" stroke-linecap="butt"/>
<path d="M240.9 769.6C244.5 770.4 254.2 773.3 262.6 774.5C271.0 775.7 283.0 776.3 291.2 776.8C299.5 777.3 305.8 777.5 312.0 777.5C318.3 777.5 320.6 777.5 328.8 777.0C336.9 776.5 355.2 775.0 361.2 774.5C367.1 774.0 363.9 774.1 364.4 774.0" fill="none" stroke="#fff" stroke-width="19" stroke-linecap="butt"/>
<path d="M462.0 716.0C460.1 717.1 457.8 718.9 450.5 722.5C443.2 726.1 427.2 733.9 418.0 737.5C408.8 741.1 402.1 742.1 395.0 744.0C387.9 745.9 381.8 747.9 375.5 749.0C369.2 750.1 370.1 750.0 357.5 750.5C344.9 751.0 314.6 752.1 300.0 752.0C285.4 751.9 278.3 751.0 270.0 750.0C261.7 749.0 253.3 746.7 250.0 746.0L248.8 755.2C252.3 755.8 261.5 757.5 270.0 758.5C278.5 759.5 286.7 761.0 300.0 761.5C313.3 762.0 339.2 761.8 350.0 761.5C360.8 761.2 359.3 760.6 365.0 760.0C370.7 759.4 377.8 759.0 384.0 757.8C390.2 756.5 393.2 755.9 402.5 752.5C411.8 749.1 429.6 743.1 440.0 737.5C450.4 731.9 460.8 722.1 465.0 719.0Z" fill="#fff" stroke="none"/>
<path d="M462.0 716.0C460.1 717.1 457.8 718.9 450.5 722.5C443.2 726.1 427.2 733.9 418.0 737.5C408.8 741.1 402.1 742.1 395.0 744.0C387.9 745.9 381.8 747.9 375.5 749.0C369.2 750.1 370.1 750.0 357.5 750.5C344.9 751.0 314.6 752.1 300.0 752.0C285.4 751.9 278.3 751.0 270.0 750.0C261.7 749.0 253.3 746.7 250.0 746.0" fill="none" stroke="#0a0a0a" stroke-width="2.3" stroke-linecap="round" stroke-linejoin="round" />
<path d="M465.0 719.0C460.8 722.1 450.4 731.9 440.0 737.5C429.6 743.1 411.8 749.1 402.5 752.5C393.2 755.9 390.2 756.5 384.0 757.8C377.8 759.0 370.7 759.4 365.0 760.0C359.3 760.6 360.8 761.2 350.0 761.5C339.2 761.8 313.3 762.0 300.0 761.5C286.7 761.0 278.5 759.5 270.0 758.5C261.5 757.5 252.3 755.8 248.8 755.2" fill="none" stroke="#0a0a0a" stroke-width="2.3" stroke-linecap="round" stroke-linejoin="round" />
<path d="M250.0 746.0L248.8 755.2" fill="none" stroke="#0a0a0a" stroke-width="2.3" stroke-linecap="round" stroke-linejoin="round"/>
<path d="M512.0 617.5C512.2 620.0 513.7 627.5 513.0 632.5C512.3 637.5 511.3 642.1 508.0 647.5C504.7 652.9 498.8 660.0 493.0 665.0C487.2 670.0 481.3 673.2 473.0 677.5C464.7 681.8 449.8 687.9 443.0 691.0C436.2 694.1 439.2 693.8 432.0 696.0C424.8 698.2 411.0 701.8 400.0 704.0C389.0 706.2 373.2 708.0 366.0 709.0C358.8 710.0 368.1 709.6 356.5 710.0C344.9 710.4 312.6 711.8 296.5 711.5C280.4 711.2 270.8 709.6 260.0 708.5C249.2 707.4 239.8 706.3 232.0 705.0C224.2 703.7 218.4 702.4 213.0 700.5C207.6 698.6 203.0 696.1 199.5 693.5C196.0 690.9 193.7 687.9 192.0 685.0C190.3 682.1 189.9 677.5 189.5 676.0L189.0 674.0C189.2 675.3 189.1 678.9 190.0 681.8C190.9 684.7 191.9 687.9 194.7 691.4C197.5 694.9 201.8 699.6 207.0 702.8C212.2 706.0 219.7 708.4 226.0 710.4C232.3 712.4 238.7 713.7 245.0 715.0C251.3 716.3 254.8 717.0 264.0 718.0C273.2 719.0 284.6 720.8 300.0 721.0C315.4 721.2 343.9 720.2 356.5 719.5C369.1 718.8 369.4 717.9 375.5 717.0C381.6 716.1 383.8 716.0 393.0 714.0C402.2 712.0 420.1 708.2 430.5 705.0C440.9 701.8 447.2 698.8 455.5 695.0C463.8 691.2 472.2 689.2 480.5 682.5C488.8 675.8 500.9 659.6 505.0 655.0Z" fill="#fff" stroke="none"/>
<path d="M512.0 617.5C512.2 620.0 513.7 627.5 513.0 632.5C512.3 637.5 511.3 642.1 508.0 647.5C504.7 652.9 498.8 660.0 493.0 665.0C487.2 670.0 481.3 673.2 473.0 677.5C464.7 681.8 449.8 687.9 443.0 691.0C436.2 694.1 439.2 693.8 432.0 696.0C424.8 698.2 411.0 701.8 400.0 704.0C389.0 706.2 373.2 708.0 366.0 709.0C358.8 710.0 368.1 709.6 356.5 710.0C344.9 710.4 312.6 711.8 296.5 711.5C280.4 711.2 270.8 709.6 260.0 708.5C249.2 707.4 239.8 706.3 232.0 705.0C224.2 703.7 218.4 702.4 213.0 700.5C207.6 698.6 203.0 696.1 199.5 693.5C196.0 690.9 193.7 687.9 192.0 685.0C190.3 682.1 189.9 677.5 189.5 676.0" fill="none" stroke="#0a0a0a" stroke-width="2.3" stroke-linecap="round" stroke-linejoin="round" />
<path d="M505.0 655.0C500.9 659.6 488.8 675.8 480.5 682.5C472.2 689.2 463.8 691.2 455.5 695.0C447.2 698.8 440.9 701.8 430.5 705.0C420.1 708.2 402.2 712.0 393.0 714.0C383.8 716.0 381.6 716.1 375.5 717.0C369.4 717.9 369.1 718.8 356.5 719.5C343.9 720.2 315.4 721.2 300.0 721.0C284.6 720.8 273.2 719.0 264.0 718.0C254.8 717.0 251.3 716.3 245.0 715.0C238.7 713.7 232.3 712.4 226.0 710.4C219.7 708.4 212.2 706.0 207.0 702.8C201.8 699.6 197.5 694.9 194.7 691.4C191.9 687.9 190.9 684.7 190.0 681.8C189.1 678.9 189.2 675.3 189.0 674.0" fill="none" stroke="#0a0a0a" stroke-width="2.3" stroke-linecap="round" stroke-linejoin="round" />
<path d="M550.0 560.0C550.7 561.7 553.6 565.8 554.0 570.0C554.4 574.2 554.0 580.2 552.5 585.0C551.0 589.8 548.8 594.8 545.0 599.0C541.2 603.2 535.5 607.2 530.0 610.5C524.5 613.8 520.2 615.2 512.0 619.0C503.8 622.8 492.0 628.7 480.5 633.0C469.0 637.3 457.6 641.5 443.0 645.0C428.4 648.5 405.8 651.9 393.0 654.0C380.2 656.1 375.0 656.6 366.0 657.5C357.0 658.4 350.6 658.9 339.0 659.5C327.4 660.1 310.1 661.4 296.5 661.0C282.9 660.6 270.2 658.8 257.5 657.0C244.8 655.2 230.4 652.7 220.0 650.5C209.6 648.3 202.7 646.7 195.0 644.0C187.3 641.3 178.8 638.2 174.0 634.5C169.2 630.8 167.3 624.1 166.0 622.0L166.6 602.0C166.0 603.9 163.2 609.7 162.8 613.5C162.5 617.3 162.8 621.0 164.5 625.0C166.2 629.0 168.4 633.2 173.0 637.5C177.6 641.8 184.2 646.8 192.0 650.5C199.8 654.2 209.1 656.9 220.0 659.5C230.9 662.1 242.7 664.2 257.5 666.0C272.3 667.8 292.5 670.0 309.0 670.5C325.5 671.0 345.4 669.9 356.5 669.0C367.6 668.1 365.2 666.5 375.5 665.0C385.8 663.5 405.6 662.2 418.0 660.0C430.4 657.8 439.7 655.2 450.0 652.0C460.3 648.8 470.0 645.0 480.0 641.0C490.0 637.0 501.7 632.0 510.0 628.0C518.3 624.0 523.7 622.2 530.0 617.0C536.3 611.8 545.0 600.3 548.0 597.0Z" fill="#fff" stroke="none"/>
<path d="M550.0 560.0C550.7 561.7 553.6 565.8 554.0 570.0C554.4 574.2 554.0 580.2 552.5 585.0C551.0 589.8 548.8 594.8 545.0 599.0C541.2 603.2 535.5 607.2 530.0 610.5C524.5 613.8 520.2 615.2 512.0 619.0C503.8 622.8 492.0 628.7 480.5 633.0C469.0 637.3 457.6 641.5 443.0 645.0C428.4 648.5 405.8 651.9 393.0 654.0C380.2 656.1 375.0 656.6 366.0 657.5C357.0 658.4 350.6 658.9 339.0 659.5C327.4 660.1 310.1 661.4 296.5 661.0C282.9 660.6 270.2 658.8 257.5 657.0C244.8 655.2 230.4 652.7 220.0 650.5C209.6 648.3 202.7 646.7 195.0 644.0C187.3 641.3 178.8 638.2 174.0 634.5C169.2 630.8 167.3 624.1 166.0 622.0" fill="none" stroke="#0a0a0a" stroke-width="2.3" stroke-linecap="round" stroke-linejoin="round" />
<path d="M548.0 597.0C545.0 600.3 536.3 611.8 530.0 617.0C523.7 622.2 518.3 624.0 510.0 628.0C501.7 632.0 490.0 637.0 480.0 641.0C470.0 645.0 460.3 648.8 450.0 652.0C439.7 655.2 430.4 657.8 418.0 660.0C405.6 662.2 385.8 663.5 375.5 665.0C365.2 666.5 367.6 668.1 356.5 669.0C345.4 669.9 325.5 671.0 309.0 670.5C292.5 670.0 272.3 667.8 257.5 666.0C242.7 664.2 230.9 662.1 220.0 659.5C209.1 656.9 199.8 654.2 192.0 650.5C184.2 646.8 177.6 641.8 173.0 637.5C168.4 633.2 166.2 629.0 164.5 625.0C162.8 621.0 162.5 617.3 162.8 613.5C163.2 609.7 166.0 603.9 166.6 602.0" fill="none" stroke="#0a0a0a" stroke-width="2.3" stroke-linecap="round" stroke-linejoin="round" />
<path d="M587.5 481.0C588.1 483.8 590.6 491.8 591.0 497.5C591.4 503.2 591.4 509.2 590.0 515.0C588.6 520.8 586.2 527.5 582.5 532.5C578.8 537.5 572.9 541.4 567.5 545.0C562.1 548.6 556.2 550.7 550.0 554.0C543.8 557.3 535.9 562.2 530.5 565.0C525.1 567.8 523.8 568.5 517.5 571.0C511.2 573.5 505.4 575.8 493.0 580.0C480.6 584.2 458.4 592.0 443.0 596.0C427.6 600.0 413.3 602.0 400.5 604.0C387.7 606.0 379.2 607.2 366.0 608.0C352.8 608.8 341.4 609.2 321.5 609.0C301.6 608.8 265.1 607.8 246.5 606.5C227.9 605.2 221.5 603.0 210.0 601.0C198.5 599.0 188.3 597.4 177.5 594.5C166.7 591.6 153.2 586.8 145.0 583.5C136.8 580.2 131.2 576.4 128.5 575.0L132.5 532.5C131.1 534.6 125.8 540.2 124.0 545.0C122.2 549.8 120.8 556.0 121.5 561.5C122.2 567.0 124.1 573.2 128.0 578.0C131.9 582.8 136.8 586.0 145.0 590.0C153.2 594.0 166.7 598.7 177.5 602.0C188.3 605.3 198.5 607.6 210.0 610.0C221.5 612.4 227.9 614.8 246.5 616.5C265.1 618.2 301.6 619.3 321.5 620.0C341.4 620.7 350.9 621.8 366.0 620.5C381.1 619.2 399.2 614.7 412.0 612.5C424.8 610.3 429.5 610.9 443.0 607.5C456.5 604.1 480.6 596.6 493.0 592.0C505.4 587.4 511.2 583.0 517.5 580.0C523.8 577.0 525.1 577.3 530.5 574.0C535.9 570.7 544.1 564.0 550.0 560.0C555.9 556.0 560.5 554.8 566.0 550.0C571.5 545.2 580.2 534.2 583.0 531.0Z" fill="#fff" stroke="none"/>
<path d="M587.5 481.0C588.1 483.8 590.6 491.8 591.0 497.5C591.4 503.2 591.4 509.2 590.0 515.0C588.6 520.8 586.2 527.5 582.5 532.5C578.8 537.5 572.9 541.4 567.5 545.0C562.1 548.6 556.2 550.7 550.0 554.0C543.8 557.3 535.9 562.2 530.5 565.0C525.1 567.8 523.8 568.5 517.5 571.0C511.2 573.5 505.4 575.8 493.0 580.0C480.6 584.2 458.4 592.0 443.0 596.0C427.6 600.0 413.3 602.0 400.5 604.0C387.7 606.0 379.2 607.2 366.0 608.0C352.8 608.8 341.4 609.2 321.5 609.0C301.6 608.8 265.1 607.8 246.5 606.5C227.9 605.2 221.5 603.0 210.0 601.0C198.5 599.0 188.3 597.4 177.5 594.5C166.7 591.6 153.2 586.8 145.0 583.5C136.8 580.2 131.2 576.4 128.5 575.0" fill="none" stroke="#0a0a0a" stroke-width="2.3" stroke-linecap="round" stroke-linejoin="round" />
<path d="M583.0 531.0C580.2 534.2 571.5 545.2 566.0 550.0C560.5 554.8 555.9 556.0 550.0 560.0C544.1 564.0 535.9 570.7 530.5 574.0C525.1 577.3 523.8 577.0 517.5 580.0C511.2 583.0 505.4 587.4 493.0 592.0C480.6 596.6 456.5 604.1 443.0 607.5C429.5 610.9 424.8 610.3 412.0 612.5C399.2 614.7 381.1 619.2 366.0 620.5C350.9 621.8 341.4 620.7 321.5 620.0C301.6 619.3 265.1 618.2 246.5 616.5C227.9 614.8 221.5 612.4 210.0 610.0C198.5 607.6 188.3 605.3 177.5 602.0C166.7 598.7 153.2 594.0 145.0 590.0C136.8 586.0 131.9 582.8 128.0 578.0C124.1 573.2 122.2 567.0 121.5 561.5C120.8 556.0 122.2 549.8 124.0 545.0C125.8 540.2 131.1 534.6 132.5 532.5" fill="none" stroke="#0a0a0a" stroke-width="2.3" stroke-linecap="round" stroke-linejoin="round" />
<path d="M634.5 389.0C634.7 391.2 635.8 398.0 635.8 402.5C635.8 407.0 635.4 411.4 634.4 416.0C633.4 420.6 632.0 425.4 630.0 430.0C628.0 434.6 625.4 439.4 622.5 443.8C619.6 448.1 615.8 452.5 612.5 456.2C609.2 460.0 606.7 462.8 602.5 466.0C598.3 469.2 595.4 471.3 587.5 475.5C579.6 479.7 566.7 485.9 555.0 491.0C543.3 496.1 532.0 501.0 517.5 506.0C503.0 511.0 484.6 516.6 468.0 521.0C451.4 525.4 433.4 529.8 418.0 532.5C402.6 535.2 385.8 535.9 375.5 537.0C365.2 538.1 375.9 538.8 356.5 539.0C337.1 539.2 287.8 539.0 259.0 538.0C230.2 537.0 200.5 534.2 184.0 533.0C167.5 531.8 170.2 532.7 160.0 530.5C149.8 528.3 132.5 524.1 122.5 520.0C112.5 515.9 105.8 510.3 100.0 506.0C94.2 501.7 89.6 496.0 87.5 494.0L110.0 437.0C108.8 438.2 105.8 440.6 102.5 444.0C99.2 447.4 93.0 451.9 90.0 457.5C87.0 463.1 84.9 471.2 84.5 477.5C84.1 483.8 84.9 489.1 87.5 495.0C90.1 500.9 94.2 507.6 100.0 513.0C105.8 518.4 112.5 523.2 122.5 527.5C132.5 531.8 149.8 536.2 160.0 538.8C170.2 541.3 171.7 541.6 184.0 543.0C196.3 544.4 221.5 545.8 234.0 547.0C246.5 548.2 238.6 549.6 259.0 550.0C279.4 550.4 337.1 549.9 356.5 549.5C375.9 549.1 365.2 548.7 375.5 547.5C385.8 546.3 402.6 545.0 418.0 542.5C433.4 540.0 451.4 537.1 468.0 532.5C484.6 527.9 503.0 520.6 517.5 515.0C532.0 509.4 543.3 504.6 555.0 499.0C566.7 493.4 579.4 486.7 587.5 481.5C595.6 476.3 599.0 472.2 603.5 468.0C608.0 463.8 611.6 459.6 614.5 456.0C617.4 452.4 619.9 448.1 621.0 446.5Z" fill="#fff" stroke="none"/>
<path d="M634.5 389.0C634.7 391.2 635.8 398.0 635.8 402.5C635.8 407.0 635.4 411.4 634.4 416.0C633.4 420.6 632.0 425.4 630.0 430.0C628.0 434.6 625.4 439.4 622.5 443.8C619.6 448.1 615.8 452.5 612.5 456.2C609.2 460.0 606.7 462.8 602.5 466.0C598.3 469.2 595.4 471.3 587.5 475.5C579.6 479.7 566.7 485.9 555.0 491.0C543.3 496.1 532.0 501.0 517.5 506.0C503.0 511.0 484.6 516.6 468.0 521.0C451.4 525.4 433.4 529.8 418.0 532.5C402.6 535.2 385.8 535.9 375.5 537.0C365.2 538.1 375.9 538.8 356.5 539.0C337.1 539.2 287.8 539.0 259.0 538.0C230.2 537.0 200.5 534.2 184.0 533.0C167.5 531.8 170.2 532.7 160.0 530.5C149.8 528.3 132.5 524.1 122.5 520.0C112.5 515.9 105.8 510.3 100.0 506.0C94.2 501.7 89.6 496.0 87.5 494.0" fill="none" stroke="#0a0a0a" stroke-width="2.3" stroke-linecap="round" stroke-linejoin="round" />
<path d="M621.0 446.5C619.9 448.1 617.4 452.4 614.5 456.0C611.6 459.6 608.0 463.8 603.5 468.0C599.0 472.2 595.6 476.3 587.5 481.5C579.4 486.7 566.7 493.4 555.0 499.0C543.3 504.6 532.0 509.4 517.5 515.0C503.0 520.6 484.6 527.9 468.0 532.5C451.4 537.1 433.4 540.0 418.0 542.5C402.6 545.0 385.8 546.3 375.5 547.5C365.2 548.7 375.9 549.1 356.5 549.5C337.1 549.9 279.4 550.4 259.0 550.0C238.6 549.6 246.5 548.2 234.0 547.0C221.5 545.8 196.3 544.4 184.0 543.0C171.7 541.6 170.2 541.3 160.0 538.8C149.8 536.2 132.5 531.8 122.5 527.5C112.5 523.2 105.8 518.4 100.0 513.0C94.2 507.6 90.1 500.9 87.5 495.0C84.9 489.1 84.1 483.8 84.5 477.5C84.9 471.2 87.0 463.1 90.0 457.5C93.0 451.9 99.2 447.4 102.5 444.0C105.8 440.6 108.8 438.2 110.0 437.0" fill="none" stroke="#0a0a0a" stroke-width="2.3" stroke-linecap="round" stroke-linejoin="round" />
<path d="M685.0 302.5C685.0 304.1 685.5 308.4 685.2 312.0C684.9 315.6 684.1 320.6 683.0 324.0C681.9 327.4 680.5 329.3 678.8 332.5C677.0 335.7 675.2 339.2 672.5 343.0C669.8 346.8 666.0 351.5 662.5 355.5C659.0 359.5 655.2 363.3 651.2 367.0C647.3 370.7 644.0 373.8 638.8 377.5C633.5 381.2 627.3 384.9 620.0 389.0C612.7 393.1 603.3 397.9 595.0 402.0C586.7 406.1 578.3 410.0 570.0 413.5C561.7 417.0 553.7 420.2 545.0 423.0C536.3 425.8 530.8 427.5 518.0 430.5C505.2 433.5 484.7 438.0 468.0 441.0C451.3 444.0 433.4 446.8 418.0 448.8C402.6 450.7 385.8 451.5 375.5 452.5C365.2 453.5 371.8 454.2 356.5 454.8C341.2 455.3 304.4 456.0 284.0 456.0C263.6 456.0 247.3 455.2 234.0 454.5C220.7 453.8 216.8 453.0 204.0 451.5C191.2 450.0 171.5 447.9 157.5 445.5C143.5 443.1 130.4 439.8 120.0 437.0C109.6 434.2 103.3 431.9 95.0 428.5C86.7 425.1 77.5 421.5 70.0 416.5C62.5 411.5 54.6 403.9 50.0 398.5C45.4 393.1 44.1 387.9 42.5 384.0C40.9 380.1 40.8 376.5 40.5 375.0L40.5 375.0C40.5 375.8 39.8 376.6 40.5 380.0C41.2 383.4 42.2 390.1 45.0 395.5C47.8 400.9 51.2 406.8 57.5 412.5C63.8 418.2 72.1 424.2 82.5 429.5C92.9 434.8 107.5 440.5 120.0 444.5C132.5 448.5 143.5 450.8 157.5 453.5C171.5 456.2 191.2 458.8 204.0 460.5C216.8 462.2 220.7 462.8 234.0 463.5C247.3 464.2 263.6 464.9 284.0 465.0C304.4 465.1 341.2 464.3 356.5 464.0C371.8 463.7 365.2 463.7 375.5 463.0C385.8 462.3 402.6 462.0 418.0 460.0C433.4 458.0 451.3 454.2 468.0 451.0C484.7 447.8 505.2 444.1 518.0 441.0C530.8 437.9 538.0 434.8 545.0 432.5C552.0 430.2 553.3 429.5 560.0 427.0C566.7 424.5 576.7 421.2 585.0 417.5C593.3 413.8 601.7 409.6 610.0 405.0C618.3 400.4 628.0 394.9 635.0 390.0C642.0 385.1 647.0 380.7 652.0 375.5C657.0 370.3 661.4 363.9 665.0 359.0C668.6 354.1 671.2 350.0 673.8 346.0C676.2 342.0 678.3 338.5 680.0 335.0C681.7 331.5 683.0 328.8 684.0 325.0C685.0 321.2 685.6 316.2 685.8 312.5C686.0 308.8 685.1 304.2 685.0 302.5Z" fill="#fff" stroke="none"/>
<path d="M685.0 302.5C685.0 304.1 685.5 308.4 685.2 312.0C684.9 315.6 684.1 320.6 683.0 324.0C681.9 327.4 680.5 329.3 678.8 332.5C677.0 335.7 675.2 339.2 672.5 343.0C669.8 346.8 666.0 351.5 662.5 355.5C659.0 359.5 655.2 363.3 651.2 367.0C647.3 370.7 644.0 373.8 638.8 377.5C633.5 381.2 627.3 384.9 620.0 389.0C612.7 393.1 603.3 397.9 595.0 402.0C586.7 406.1 578.3 410.0 570.0 413.5C561.7 417.0 553.7 420.2 545.0 423.0C536.3 425.8 530.8 427.5 518.0 430.5C505.2 433.5 484.7 438.0 468.0 441.0C451.3 444.0 433.4 446.8 418.0 448.8C402.6 450.7 385.8 451.5 375.5 452.5C365.2 453.5 371.8 454.2 356.5 454.8C341.2 455.3 304.4 456.0 284.0 456.0C263.6 456.0 247.3 455.2 234.0 454.5C220.7 453.8 216.8 453.0 204.0 451.5C191.2 450.0 171.5 447.9 157.5 445.5C143.5 443.1 130.4 439.8 120.0 437.0C109.6 434.2 103.3 431.9 95.0 428.5C86.7 425.1 77.5 421.5 70.0 416.5C62.5 411.5 54.6 403.9 50.0 398.5C45.4 393.1 44.1 387.9 42.5 384.0C40.9 380.1 40.8 376.5 40.5 375.0" fill="none" stroke="#0a0a0a" stroke-width="2.3" stroke-linecap="round" stroke-linejoin="round" />
<path d="M685.0 302.5C685.1 304.2 686.0 308.8 685.8 312.5C685.6 316.2 685.0 321.2 684.0 325.0C683.0 328.8 681.7 331.5 680.0 335.0C678.3 338.5 676.2 342.0 673.8 346.0C671.2 350.0 668.6 354.1 665.0 359.0C661.4 363.9 657.0 370.3 652.0 375.5C647.0 380.7 642.0 385.1 635.0 390.0C628.0 394.9 618.3 400.4 610.0 405.0C601.7 409.6 593.3 413.8 585.0 417.5C576.7 421.2 566.7 424.5 560.0 427.0C553.3 429.5 552.0 430.2 545.0 432.5C538.0 434.8 530.8 437.9 518.0 441.0C505.2 444.1 484.7 447.8 468.0 451.0C451.3 454.2 433.4 458.0 418.0 460.0C402.6 462.0 385.8 462.3 375.5 463.0C365.2 463.7 371.8 463.7 356.5 464.0C341.2 464.3 304.4 465.1 284.0 465.0C263.6 464.9 247.3 464.2 234.0 463.5C220.7 462.8 216.8 462.2 204.0 460.5C191.2 458.8 171.5 456.2 157.5 453.5C143.5 450.8 132.5 448.5 120.0 444.5C107.5 440.5 92.9 434.8 82.5 429.5C72.1 424.2 63.8 418.2 57.5 412.5C51.2 406.8 47.8 400.9 45.0 395.5C42.2 390.1 41.2 383.4 40.5 380.0C39.8 376.6 40.5 375.8 40.5 375.0" fill="none" stroke="#0a0a0a" stroke-width="2.3" stroke-linecap="round" stroke-linejoin="round" />
<path d="M249.0 145.0C244.8 145.4 234.8 146.0 224.0 147.5C213.2 149.0 195.2 151.9 184.0 154.0C172.8 156.1 161.5 159.0 157.0 160.0" fill="none" stroke="#505050" stroke-width="3.6" stroke-linecap="round" stroke-linejoin="round" />
<path d="M153.8 160.8 L167.1 165.1 L161.3 159.4 L164.8 152.1 Z" fill="#505050" stroke="#505050" stroke-width="0.6" stroke-linejoin="miter"/>
<path d="M428.5 146.0C430.4 146.1 433.1 145.8 440.0 146.5C446.9 147.2 460.8 149.1 470.0 150.5C479.2 151.9 490.8 154.2 495.0 155.0" fill="none" stroke="#505050" stroke-width="3.6" stroke-linecap="round" stroke-linejoin="round" />
<path d="M651.0 352.5C653.2 350.4 660.2 346.2 664.5 340.0C668.8 333.8 674.1 323.3 677.0 315.0C679.9 306.7 681.6 297.9 682.0 290.0C682.4 282.1 682.8 276.7 679.5 267.5C676.2 258.3 670.8 245.4 662.0 235.0C653.2 224.6 637.3 212.5 627.0 205.0C616.7 197.5 609.2 194.4 600.0 190.0C590.8 185.6 577.7 180.8 572.0 178.5C566.3 176.2 567.0 176.8 566.0 176.5" fill="none" stroke="#505050" stroke-width="3.6" stroke-linecap="round" stroke-linejoin="round" />
<path d="M562.5 175.0 L571.9 185.4 L569.7 177.6 L576.4 173.1 Z" fill="#505050" stroke="#505050" stroke-width="0.6" stroke-linejoin="miter"/>
<path d="M60.0 324.0C58.3 326.0 52.5 332.2 50.0 336.0C47.5 339.8 46.2 341.3 45.0 347.0C43.8 352.7 41.7 363.2 42.5 370.0C43.3 376.8 47.1 383.0 50.0 387.5C52.9 392.0 58.3 395.4 60.0 397.0" fill="none" stroke="#505050" stroke-width="3.6" stroke-linecap="round" stroke-linejoin="round" />
<path d="M65.0 401.0 L59.3 388.2 L58.9 396.3 L51.2 398.6 Z" fill="#505050" stroke="#505050" stroke-width="0.6" stroke-linejoin="miter"/>
<path d="M117.5 423.0C124.2 424.6 146.4 430.2 157.5 432.5C168.6 434.8 171.2 435.0 184.0 436.5C196.8 438.0 216.7 440.4 234.0 441.5C251.3 442.6 279.0 442.8 288.0 443.0" fill="none" stroke="#505050" stroke-width="3.6" stroke-linecap="round" stroke-linejoin="round" />
<path d="M445.0 431.0C452.5 429.6 477.5 425.3 490.0 422.5C502.5 419.7 511.7 416.5 520.0 414.0C528.3 411.5 533.8 409.5 540.0 407.5C546.2 405.5 550.0 404.5 557.5 402.0C565.0 399.5 580.4 394.1 585.0 392.5" fill="none" stroke="#505050" stroke-width="3.6" stroke-linecap="round" stroke-linejoin="round" />
<path d="M589.0 391.0 L575.1 389.1 L581.8 393.6 L579.6 401.4 Z" fill="#505050" stroke="#505050" stroke-width="0.6" stroke-linejoin="miter"/>
<path d="M164.0 642.5C162.3 640.4 156.4 634.6 154.0 630.0C151.6 625.4 150.3 620.0 149.5 615.0C148.7 610.0 149.1 602.5 149.0 600.0" fill="none" stroke="#505050" stroke-width="3.6" stroke-linecap="round" stroke-linejoin="round" />
<path d="M149.0 596.0 L142.4 608.4 L149.0 603.7 L155.6 608.4 Z" fill="#505050" stroke="#505050" stroke-width="0.6" stroke-linejoin="miter"/>
<path d="M186.0 696.0C185.1 693.8 181.5 686.8 180.5 682.5C179.5 678.2 180.1 672.1 180.0 670.0" fill="none" stroke="#505050" stroke-width="3.6" stroke-linecap="round" stroke-linejoin="round" />
<path d="M180.0 666.0 L173.4 678.4 L180.0 673.7 L186.6 678.4 Z" fill="#505050" stroke="#505050" stroke-width="0.6" stroke-linejoin="miter"/>
<path d="M482.0 703.0C479.7 706.2 474.5 715.9 468.0 722.5C461.5 729.1 453.4 736.2 443.0 742.5C432.6 748.8 416.8 755.2 405.5 760.0C394.2 764.8 380.1 769.2 375.0 771.0" fill="none" stroke="#505050" stroke-width="3.6" stroke-linecap="round" stroke-linejoin="round" />
<path d="M370.5 772.5 L384.3 774.7 L377.8 770.0 L380.0 762.3 Z" fill="#505050" stroke="#505050" stroke-width="0.6" stroke-linejoin="miter"/>
<path d="M507.0 666.0 L518.6 658.2 L510.6 659.2 L507.0 652.0 Z" fill="#505050" stroke="#505050" stroke-width="0.6" stroke-linejoin="miter"/>
<rect x="357.5" y="52" width="17.5" height="700" fill="#fff"/>
<path d="M397.0 725.0C392.2 725.8 377.5 728.8 368.0 730.0C358.5 731.2 350.0 731.3 340.0 732.0C330.0 732.7 313.3 733.7 308.0 734.0" fill="none" stroke="#505050" stroke-width="3.6" stroke-linecap="round" stroke-linejoin="round" />
<path d="M303.8 734.3 L316.4 740.2 L311.4 733.9 L315.8 727.1 Z" fill="#505050" stroke="#505050" stroke-width="0.6" stroke-linejoin="miter"/>
<path d="M366.6 57.3L366.6 75.3" stroke="#0a0a0a" stroke-width="1.2" fill="none"/>
<path d="M366.6 55.3L364.5 60.8L368.7 60.8Z" fill="#0a0a0a"/>
<path d="M366.6 77.3L364.5 71.8L368.7 71.8Z" fill="#0a0a0a"/>
<path d="M366.6 100.0L366.6 117.5" stroke="#0a0a0a" stroke-width="1.2" fill="none"/>
<path d="M366.6 98.0L364.5 103.5L368.7 103.5Z" fill="#0a0a0a"/>
<path d="M366.6 119.5L364.5 114.0L368.7 114.0Z" fill="#0a0a0a"/>
<path d="M366.6 144.5L366.6 162.0" stroke="#0a0a0a" stroke-width="1.2" fill="none"/>
<path d="M366.6 142.5L364.5 148.0L368.7 148.0Z" fill="#0a0a0a"/>
<path d="M366.6 164.0L364.5 158.5L368.7 158.5Z" fill="#0a0a0a"/>
<path d="M366.6 187.5L366.6 204.5" stroke="#0a0a0a" stroke-width="1.2" fill="none"/>
<path d="M366.6 185.5L364.5 191.0L368.7 191.0Z" fill="#0a0a0a"/>
<path d="M366.6 206.5L364.5 201.0L368.7 201.0Z" fill="#0a0a0a"/>
<path d="M366.6 231.0L366.6 248.5" stroke="#0a0a0a" stroke-width="1.2" fill="none"/>
<path d="M366.6 229.0L364.5 234.5L368.7 234.5Z" fill="#0a0a0a"/>
<path d="M366.6 250.5L364.5 245.0L368.7 245.0Z" fill="#0a0a0a"/>
<path d="M366.6 274.5L366.6 292.0" stroke="#0a0a0a" stroke-width="1.2" fill="none"/>
<path d="M366.6 272.5L364.5 278.0L368.7 278.0Z" fill="#0a0a0a"/>
<path d="M366.6 294.0L364.5 288.5L368.7 288.5Z" fill="#0a0a0a"/>
<path d="M366.6 318.0L366.6 335.5" stroke="#0a0a0a" stroke-width="1.2" fill="none"/>
<path d="M366.6 316.0L364.5 321.5L368.7 321.5Z" fill="#0a0a0a"/>
<path d="M366.6 337.5L364.5 332.0L368.7 332.0Z" fill="#0a0a0a"/>
<path d="M366.6 361.5L366.6 376.0" stroke="#0a0a0a" stroke-width="1.2" fill="none"/>
<path d="M366.6 359.5L364.5 365.0L368.7 365.0Z" fill="#0a0a0a"/>
<path d="M366.6 378.0L364.5 372.5L368.7 372.5Z" fill="#0a0a0a"/>
<path d="M366.6 408.0L366.6 422.5" stroke="#0a0a0a" stroke-width="1.2" fill="none"/>
<path d="M366.6 406.0L364.5 411.5L368.7 411.5Z" fill="#0a0a0a"/>
<path d="M366.6 424.5L364.5 419.0L368.7 419.0Z" fill="#0a0a0a"/>
<path d="M366.6 449.0L366.6 466.5" stroke="#0a0a0a" stroke-width="1.2" fill="none"/>
<path d="M366.6 447.0L364.5 452.5L368.7 452.5Z" fill="#0a0a0a"/>
<path d="M366.6 468.5L364.5 463.0L368.7 463.0Z" fill="#0a0a0a"/>
<path d="M366.6 492.5L366.6 510.0" stroke="#0a0a0a" stroke-width="1.2" fill="none"/>
<path d="M366.6 490.5L364.5 496.0L368.7 496.0Z" fill="#0a0a0a"/>
<path d="M366.6 512.0L364.5 506.5L368.7 506.5Z" fill="#0a0a0a"/>
<path d="M366.6 536.0L366.6 553.5" stroke="#0a0a0a" stroke-width="1.2" fill="none"/>
<path d="M366.6 534.0L364.5 539.5L368.7 539.5Z" fill="#0a0a0a"/>
<path d="M366.6 555.5L364.5 550.0L368.7 550.0Z" fill="#0a0a0a"/>
<path d="M366.6 579.5L366.6 597.0" stroke="#0a0a0a" stroke-width="1.2" fill="none"/>
<path d="M366.6 577.5L364.5 583.0L368.7 583.0Z" fill="#0a0a0a"/>
<path d="M366.6 599.0L364.5 593.5L368.7 593.5Z" fill="#0a0a0a"/>
<path d="M366.6 623.0L366.6 640.5" stroke="#0a0a0a" stroke-width="1.2" fill="none"/>
<path d="M366.6 621.0L364.5 626.5L368.7 626.5Z" fill="#0a0a0a"/>
<path d="M366.6 642.5L364.5 637.0L368.7 637.0Z" fill="#0a0a0a"/>
<path d="M366.6 667.0L366.6 684.5" stroke="#0a0a0a" stroke-width="1.2" fill="none"/>
<path d="M366.6 665.0L364.5 670.5L368.7 670.5Z" fill="#0a0a0a"/>
<path d="M366.6 686.5L364.5 681.0L368.7 681.0Z" fill="#0a0a0a"/>
<path d="M366.6 710.5L366.6 731.0" stroke="#0a0a0a" stroke-width="1.2" fill="none"/>
<path d="M366.6 708.5L364.5 714.0L368.7 714.0Z" fill="#0a0a0a"/>
<path d="M366.6 733.0L364.5 727.5L368.7 727.5Z" fill="#0a0a0a"/>
<rect x="332.2" y="77.5" width="68.8" height="19.7" fill="#fff"/>
<text class="b" font-size="20.50" text-anchor="middle" transform="translate(366.60 93.00) scale(0.7635 1)" stroke="#0a0a0a" stroke-width="0.7" stroke-linejoin="round">Cosmos</text>
<rect x="309.4" y="121.2" width="114.5" height="19.7" fill="#fff"/>
<text class="b" font-size="20.50" text-anchor="middle" transform="translate(366.60 136.75) scale(0.7886 1)" stroke="#0a0a0a" stroke-width="0.7" stroke-linejoin="round">World System</text>
<rect x="270.6" y="165.0" width="192.0" height="19.7" fill="#fff"/>
<text class="b" font-size="20.50" text-anchor="middle" transform="translate(366.60 180.50) scale(0.7960 1)" stroke="#0a0a0a" stroke-width="0.7" stroke-linejoin="round">Environmental Systems</text>
<rect x="289.6" y="208.5" width="154.0" height="19.7" fill="#fff"/>
<text class="b" font-size="20.50" text-anchor="middle" transform="translate(366.60 224.00) scale(0.7820 1)" stroke="#0a0a0a" stroke-width="0.7" stroke-linejoin="round">Economic Systems</text>
<rect x="294.9" y="252.0" width="143.5" height="19.7" fill="#fff"/>
<text class="b" font-size="20.50" text-anchor="middle" transform="translate(366.60 267.50) scale(0.8095 1)" stroke="#0a0a0a" stroke-width="0.7" stroke-linejoin="round">Political Systems</text>
<rect x="296.6" y="295.5" width="140.0" height="19.7" fill="#fff"/>
<text class="b" font-size="20.50" text-anchor="middle" transform="translate(366.60 311.00) scale(0.7942 1)" stroke="#0a0a0a" stroke-width="0.7" stroke-linejoin="round">Cultural Systems</text>
<rect x="304.9" y="339.0" width="123.5" height="19.7" fill="#fff"/>
<text class="b" font-size="20.50" text-anchor="middle" transform="translate(366.60 354.50) scale(0.7690 1)" stroke="#0a0a0a" stroke-width="0.7" stroke-linejoin="round">Consciousness</text>
<rect x="288.6" y="426.5" width="156.0" height="19.7" fill="#fff"/>
<text class="b" font-size="20.50" text-anchor="middle" transform="translate(366.60 442.00) scale(0.8073 1)" stroke="#0a0a0a" stroke-width="0.7" stroke-linejoin="round">Metabolic Systems</text>
<rect x="335.9" y="471.0" width="61.5" height="19.7" fill="#fff"/>
<text class="b" font-size="20.50" text-anchor="middle" transform="translate(366.60 486.50) scale(0.7594 1)" stroke="#0a0a0a" stroke-width="0.7" stroke-linejoin="round">Organs</text>
<rect x="343.9" y="513.5" width="45.5" height="19.7" fill="#fff"/>
<text class="b" font-size="20.50" text-anchor="middle" transform="translate(366.60 529.00) scale(0.7858 1)" stroke="#0a0a0a" stroke-width="0.7" stroke-linejoin="round">Cells</text>
<rect x="338.1" y="557.0" width="57.0" height="19.7" fill="#fff"/>
<text class="b" font-size="20.50" text-anchor="middle" transform="translate(366.60 572.50) scale(0.7979 1)" stroke="#0a0a0a" stroke-width="0.7" stroke-linejoin="round">Genes</text>
<rect x="322.9" y="600.5" width="87.5" height="19.7" fill="#fff"/>
<text class="b" font-size="20.50" text-anchor="middle" transform="translate(366.60 616.00) scale(0.8122 1)" stroke="#0a0a0a" stroke-width="0.7" stroke-linejoin="round">Molecules</text>
<rect x="338.9" y="644.5" width="55.5" height="19.7" fill="#fff"/>
<text class="b" font-size="20.50" text-anchor="middle" transform="translate(366.60 660.00) scale(0.7604 1)" stroke="#0a0a0a" stroke-width="0.7" stroke-linejoin="round">Atoms</text>
<rect x="301.1" y="688.5" width="131.0" height="19.7" fill="#fff"/>
<text class="b" font-size="20.50" text-anchor="middle" transform="translate(366.60 704.00) scale(0.8006 1)" stroke="#0a0a0a" stroke-width="0.7" stroke-linejoin="round">Quantum Fields</text>
<text class="b" font-size="19.5" text-anchor="middle" transform="translate(366.60 49.6) scale(0.86 1)" stroke="#0a0a0a" stroke-width="0.6">?</text>
<rect x="358" y="733.5" width="17" height="16" fill="#fff"/>
<text class="b" font-size="19.5" text-anchor="middle" transform="translate(366.60 748.5) scale(0.86 1)" stroke="#0a0a0a" stroke-width="0.6">?</text>
<rect x="264.5" y="380.4" width="204" height="23.2" fill="#fff" stroke="#0a0a0a" stroke-width="2.2"/>
<text class="b" font-size="20.50" text-anchor="middle" transform="translate(366.60 398.6) scale(0.7949 1)" stroke="#0a0a0a" stroke-width="0.7">THE HUMAN BODYMIND</text>
<text class="g" font-size="16.00" transform="translate(66.0 176.0) rotate(-15.0) scale(0.8464 1)" stroke="#383838" stroke-width="0.42">Growth and</text>
<text class="g" font-size="16.00" transform="translate(66.0 196.0) rotate(-16.5) scale(0.8532 1)" stroke="#383838" stroke-width="0.42">Empowerment</text>
<text class="g" font-size="16.00" font-style="italic" transform="translate(511.0 151.0) rotate(16.5) scale(0.8389 1)" stroke="#383838" stroke-width="0.42">Positive</text>
<text class="g" font-size="16.00" font-style="italic" transform="translate(505.0 167.5) rotate(16.5) scale(0.8310 1)" stroke="#383838" stroke-width="0.42">Meaning</text>
<text class="g" font-size="16.00" transform="translate(55.0 311.0) rotate(-30.0) scale(0.8295 1)" stroke="#383838" stroke-width="0.42">Healthy</text>
<text class="g" font-size="16.00" transform="translate(70.0 319.0) rotate(-30.0) scale(0.8651 1)" stroke="#383838" stroke-width="0.42">Mind</text>
<text class="g" font-size="16.00" font-style="italic" transform="translate(76.0 392.5) rotate(24.0) scale(0.8111 1)" stroke="#383838" stroke-width="0.42">Healthy</text>
<text class="g" font-size="16.00" font-style="italic" transform="translate(71.5 409.0) rotate(24.0) scale(0.8329 1)" stroke="#383838" stroke-width="0.42">Beliefs</text>
<text class="g" font-size="16.00" transform="translate(592.0 375.0) rotate(-30.0) scale(0.8480 1)" stroke="#383838" stroke-width="0.42">Healthy</text>
<text class="g" font-size="16.00" transform="translate(596.0 391.0) rotate(-31.0) scale(0.8433 1)" stroke="#383838" stroke-width="0.42">Behaviors</text>
<text class="g" font-size="16.00" transform="translate(146.0 579.0) rotate(-30.0) scale(0.8051 1)" stroke="#383838" stroke-width="0.42">Unhealthy</text>
<text class="g" font-size="16.00" transform="translate(164.0 586.0) rotate(-31.0) scale(0.8538 1)" stroke="#383838" stroke-width="0.42">Beliefs</text>
<path id="tp1" d="M164.8 653.6C167.1 655.0 173.0 659.4 178.5 662.0C184.0 664.6 191.2 667.2 197.6 669.0C203.9 670.8 211.5 672.0 216.6 673.0C221.7 674.0 221.2 674.2 228.0 675.3C234.8 676.4 252.6 679.0 257.5 679.8" fill="none" stroke="none"/>
<text class="g" font-size="16.00" font-style="italic" stroke="#383838" stroke-width="0.42"><textPath href="#tp1" textLength="97.8" lengthAdjust="spacingAndGlyphs">Unhealthy Mind</textPath></text>
<path id="tp2" d="M182.0 706.6C184.6 708.3 192.5 714.3 197.6 717.0C202.7 719.7 208.1 721.2 212.8 722.7C217.6 724.2 222.9 725.2 226.1 726.0C229.3 726.8 227.1 726.7 231.8 727.5C236.6 728.3 246.7 730.0 254.6 731.0C262.5 732.0 275.3 733.2 279.4 733.6" fill="none" stroke="none"/>
<text class="g" font-size="16.00" font-style="italic" stroke="#383838" stroke-width="0.42"><textPath href="#tp2" textLength="103.1" lengthAdjust="spacingAndGlyphs">Negative Meaning</textPath></text>
<path id="tp3" d="M242.7 774.2C245.9 774.9 253.9 777.4 262.0 778.5C270.1 779.6 282.7 780.3 291.0 780.8C299.3 781.3 305.7 781.5 312.0 781.5C318.3 781.5 320.8 781.5 329.0 781.0C337.2 780.5 356.1 778.9 361.5 778.5" fill="none" stroke="none"/>
<text class="g" font-size="16.00" font-style="italic" stroke="#383838" stroke-width="0.42"><textPath href="#tp3" textLength="120.1" lengthAdjust="spacingAndGlyphs">Disability and Decay</textPath></text>
<path id="tp4" d="M401.9 727.0C404.6 726.4 412.4 724.8 418.0 723.2C423.6 721.6 429.3 719.5 435.2 717.5C441.1 715.5 448.9 712.6 453.2 710.9C457.5 709.1 456.8 709.2 460.8 707.0C464.8 704.8 471.8 700.9 477.0 697.6C482.2 694.3 487.3 690.9 492.2 687.1C497.1 683.3 504.1 676.8 506.5 674.7" fill="none" stroke="none"/>
<text class="g" font-size="16.00" stroke="#383838" stroke-width="0.42"><textPath href="#tp4" textLength="119.1" lengthAdjust="spacingAndGlyphs">Unhealthy Behaviors</textPath></text>
<path d="M425 246.2L426.6 262" stroke="#0a0a0a" stroke-width="2.1" fill="none" stroke-linecap="round"/>
</svg>
</body></html>
